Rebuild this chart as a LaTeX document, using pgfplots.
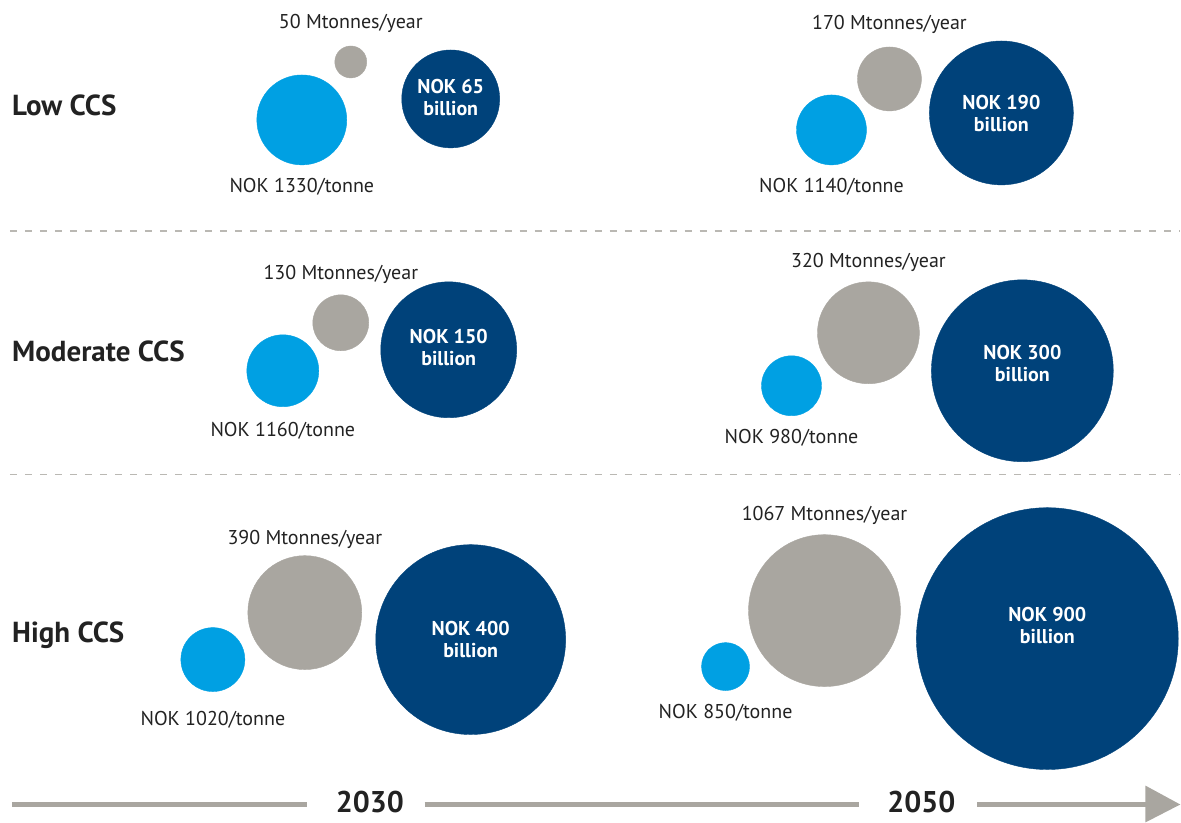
\documentclass[border=0pt]{standalone}
\usepackage{pgfplots}
\pgfplotsset{compat=1.18}
\usepackage{fontspec}
\setmainfont{PT Sans}
\definecolor{cLight}{HTML}{00A0E3}
\definecolor{cGrey}{HTML}{A9A6A0}
\definecolor{cDark}{HTML}{00427A}
\definecolor{cText}{HTML}{222222}
\begin{document}
\begin{tikzpicture}
\begin{axis}[
    x=1pt, y=1pt, y dir=reverse,
    xmin=0, xmax=1181, ymin=0, ymax=823,
    hide axis, clip=false,
    scale only axis,
]
\path (axis cs:0,0) rectangle (axis cs:1181,823);
% cost per tonne
\addplot[scatter, only marks, mark=*,
    scatter/use mapped color={draw=cLight, fill=cLight},
    visualization depends on={\thisrow{r}\as\rad},
    scatter/@pre marker code/.append style={/tikz/mark size=\rad}]
  table {
x y r
302 120 45
832 130 35
283 371 36
792 386 30
213 660 32
726 667 24
};
% volume
\addplot[scatter, only marks, mark=*,
    scatter/use mapped color={draw=cGrey, fill=cGrey},
    visualization depends on={\thisrow{r}\as\rad},
    scatter/@pre marker code/.append style={/tikz/mark size=\rad}]
  table {
x y r
351 62 16
890 79 32
341 323 28
869 333 51
305 613 57
825 611 76
};
% total cost
\addplot[scatter, only marks, mark=*,
    scatter/use mapped color={draw=cDark, fill=cDark},
    visualization depends on={\thisrow{r}\as\rad},
    scatter/@pre marker code/.append style={/tikz/mark size=\rad}]
  table {
x y r
451 99 49
1002 113 72
449 350 68
1023 371 91
471 640 95
1048 639 131
};

\coordinate (t1) at (axis cs:451,98);
\coordinate (t2) at (axis cs:1002,114);
\coordinate (t3) at (axis cs:449,348);
\coordinate (t4) at (axis cs:1023,364);
\coordinate (t5) at (axis cs:471,640);
\coordinate (t6) at (axis cs:1048,626);

% separators
\draw[cGrey!80, line width=1.5pt, dash pattern=on 7pt off 8pt] (axis cs:10,231) -- (axis cs:1181,231);
\draw[cGrey!80, line width=1.5pt, dash pattern=on 7pt off 8pt] (axis cs:10,475) -- (axis cs:1181,475);

% time line
\draw[cGrey, line width=5pt] (axis cs:12,805) -- (axis cs:307,805);
\draw[cGrey, line width=5pt] (axis cs:425,805) -- (axis cs:860,805);
\draw[cGrey, line width=5pt] (axis cs:978,805) -- (axis cs:1150,805);
\fill[cGrey] (axis cs:1146,786) -- (axis cs:1181,805) -- (axis cs:1146,823) -- cycle;
\node[font=\bfseries\fontsize{30}{32}\selectfont, text=cText] at (axis cs:370,803) {2030};
\node[font=\bfseries\fontsize{30}{32}\selectfont, text=cText] at (axis cs:922,803) {2050};

% row labels
\begin{scope}[every node/.style={font=\bfseries\fontsize{29}{31}\selectfont, text=cText, anchor=west, inner sep=0pt}]
\node at (axis cs:12,105) {Low CCS};
\node at (axis cs:12,352) {Moderate CCS};
\node at (axis cs:12,636) {High CCS};
\end{scope}

% outer labels
\begin{scope}[every node/.style={font=\fontsize{20}{22}\selectfont, text=cText, inner sep=0pt}]
\node at (axis cs:351,23) {50 Mtonnes/year};
\node at (axis cs:302,187) {NOK 1330/tonne};
\node at (axis cs:890,24) {170 Mtonnes/year};
\node at (axis cs:832,187) {NOK 1140/tonne};
\node at (axis cs:341,275) {130 Mtonnes/year};
\node at (axis cs:283,431) {NOK 1160/tonne};
\node at (axis cs:869,263) {320 Mtonnes/year};
\node at (axis cs:792,438) {NOK 980/tonne};
\node at (axis cs:305,540) {390 Mtonnes/year};
\node at (axis cs:213,720) {NOK 1020/tonne};
\node at (axis cs:825,516) {1067 Mtonnes/year};
\node at (axis cs:726,713) {NOK 850/tonne};
\end{scope}
\end{axis}

% inner labels, drawn above the bubbles
\begin{scope}[every node/.style={font=\bfseries\fontsize{20}{22}\selectfont, text=white, align=center, inner sep=0pt}]
\node at (t1) {NOK 65\\billion};
\node at (t2) {NOK 190\\billion};
\node at (t3) {NOK 150\\billion};
\node at (t4) {NOK 300\\billion};
\node at (t5) {NOK 400\\billion};
\node at (t6) {NOK 900\\billion};
\end{scope}
\end{tikzpicture}
\end{document}
